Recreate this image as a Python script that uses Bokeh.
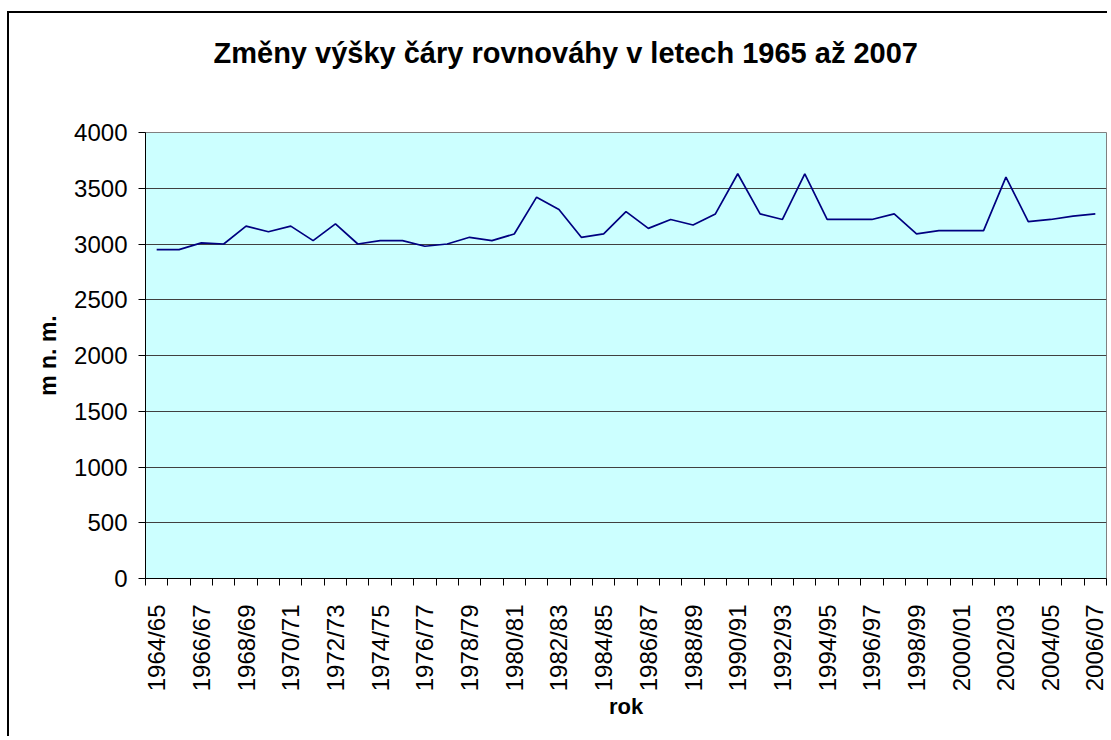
from bokeh.plotting import figure
from bokeh.models import Range1d, FixedTicker, CustomJSTickFormatter, Title
from bokeh.embed import file_html
from bokeh.resources import INLINE

seasons = ["1964/65", "1965/66", "1966/67", "1967/68", "1968/69", "1969/70",
           "1970/71", "1971/72", "1972/73", "1973/74", "1974/75", "1975/76",
           "1976/77", "1977/78", "1978/79", "1979/80", "1980/81", "1981/82",
           "1982/83", "1983/84", "1984/85", "1985/86", "1986/87", "1987/88",
           "1988/89", "1989/90", "1990/91", "1991/92", "1992/93", "1993/94",
           "1994/95", "1995/96", "1996/97", "1997/98", "1998/99", "1999/00",
           "2000/01", "2001/02", "2002/03", "2003/04", "2004/05", "2005/06",
           "2006/07"]
ela = [2950, 2950, 3010, 3000, 3160, 3110, 3160, 3030, 3180, 3000,
       3030, 3030, 2980, 3000, 3060, 3030, 3090, 3420, 3310, 3060,
       3090, 3290, 3140, 3220, 3170, 3270, 3630, 3270, 3220, 3630,
       3220, 3220, 3220, 3270, 3090, 3120, 3120, 3120, 3600, 3200,
       3220, 3250, 3270]
y_ticks = [0, 500, 1000, 1500, 2000, 2500, 3000, 3500, 4000]

title_text = "Změny výšky čáry rovnováhy v letech 1965 až 2007"
x_label = "rok"
y_label = "m n. m."

FONT = "Liberation Sans"
n = len(seasons)
xs = list(range(n))

p = figure(width=1100, height=725, output_backend="svg", toolbar_location=None,
           x_range=Range1d(-0.5, n - 0.5), y_range=Range1d(y_ticks[0], y_ticks[-1]),
           min_border_left=136, min_border_right=3, min_border_top=119,
           min_border_bottom=160, title=title_text)
p.styles = {"margin-left": "7px", "margin-top": "11px",
            "border-left": "2px solid black", "border-top": "2px solid black"}

p.background_fill_color = "#CCFFFF"
p.border_fill_color = "white"
p.outline_line_color = "#808080"
p.outline_line_width = 1

p.title.text_font = FONT
p.title.text_font_size = "29px"
p.title.text_font_style = "bold"
p.title.text_color = "black"
p.title.align = "left"
p.title.offset = 68
p.title.vertical_align = "top"
p.title.standoff = 10

# blank spacer between the title and the plot area
spacer = Title(text=" ", text_font_size="1px", standoff=54)
p.add_layout(spacer, "above")

p.line(xs, ela, line_color="#000080", line_width=1.7)

# x axis
xa = p.xaxis[0]
xa.ticker = FixedTicker(ticks=[i for i in xs if i % 2 == 0],
                        minor_ticks=[i - 0.5 for i in xs] + [n - 0.5])
xa.formatter = CustomJSTickFormatter(args=dict(labels=seasons),
                                     code="return labels[Math.round(tick)];")
xa.major_label_orientation = 3.14159265 / 2
xa.major_tick_out = 0
xa.major_tick_in = 0
xa.minor_tick_out = 7
xa.minor_tick_in = 0
xa.minor_tick_line_color = "black"
xa.axis_line_color = "black"
xa.major_label_text_font = FONT
xa.major_label_text_font_size = "24px"
xa.major_label_text_color = "black"
xa.major_label_standoff = 19
xa.axis_label = x_label
xa.axis_label_text_font = FONT
xa.axis_label_text_font_size = "22px"
xa.axis_label_text_font_style = "bold"
xa.axis_label_text_color = "black"
xa.axis_label_standoff = 0

# y axis
ya = p.yaxis[0]
ya.ticker = FixedTicker(ticks=y_ticks)
ya.major_tick_out = 7
ya.major_tick_in = 0
ya.minor_tick_out = 0
ya.minor_tick_in = 0
ya.major_tick_line_color = "black"
ya.axis_line_color = "black"
ya.major_label_text_font = FONT
ya.major_label_text_font_size = "24px"
ya.major_label_text_color = "black"
ya.major_label_standoff = 11
ya.axis_label = y_label
ya.axis_label_text_font = FONT
ya.axis_label_text_font_size = "23px"
ya.axis_label_text_font_style = "bold"
ya.axis_label_text_color = "black"
ya.axis_label_standoff = 10

p.xgrid.grid_line_color = None
p.ygrid.grid_line_color = "#404040"
p.ygrid.grid_line_width = 1

open("out.html", "w").write(file_html(p, INLINE))
